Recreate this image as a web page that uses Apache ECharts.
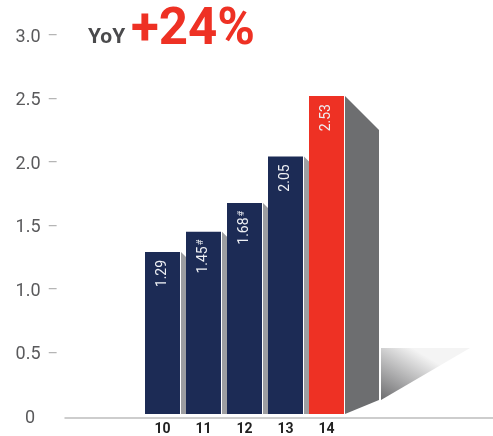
<!DOCTYPE html>
<html>
<head>
<meta charset="utf-8">
<script src="https://cdn.jsdelivr.net/npm/echarts@6/dist/echarts.min.js"></script>
<style>
  html, body { margin: 0; padding: 0; background: #fff; }
  #chart { width: 493px; height: 436px; }
</style>
</head>
<body>
<div id="chart"></div>
<script>
const years = ["10", "11", "12", "13", "14"];
const values = [1.29, 1.45, 1.68, 2.05, 2.53];
const notes = ["", "#", "#", "", ""];
const yoyText = "+24%";

const navy = "#1c2b55";
const red = "#ee3124";
const highlight = years.length - 1;
const barW = 35;

const chart = echarts.init(document.getElementById("chart"));

function renderSide(params, api) {
  const i = api.value(0);
  const top = api.coord([i, api.value(1)]);
  const base = api.coord([i, 0]);
  const x0 = top[0] + barW / 2 + 1;
  const children = [];
  if (i === highlight) {
    const d = 34;
    children.push({
      type: "polygon",
      shape: { points: [[x0, top[1]], [x0 + d, top[1] + d], [x0 + d, base[1] - 14], [x0, base[1]]] },
      style: { fill: "#6d6e70" }
    });
    const fx = x0 + d + 2;
    children.push({
      type: "polygon",
      shape: { points: [[fx, base[1] - 66], [fx + 89, base[1] - 66], [fx, base[1] - 14]] },
      style: {
        fill: new echarts.graphic.LinearGradient(0, 1, 0.35, 0, [
          { offset: 0, color: "#6c6c6e" },
          { offset: 1, color: "#f4f4f4" }
        ])
      }
    });
  } else {
    const d = 5;
    children.push({
      type: "polygon",
      shape: { points: [[x0, top[1]], [x0 + d, top[1] + d], [x0 + d, base[1]], [x0, base[1]]] },
      style: { fill: "#9d9ea1" }
    });
  }
  return { type: "group", children: children };
}

chart.setOption({
  animation: false,
  title: [
    {
      text: "YoY",
      left: 83,
      top: 22,
      textStyle: { fontFamily: "Roboto", fontWeight: "bold", fontSize: 21, color: "#4a4a4c" }
    },
    {
      text: yoyText,
      left: 126,
      top: 1,
      textStyle: { fontFamily: "Roboto", fontWeight: "bold", fontSize: 51, color: red }
    }
  ],
  grid: [
    { left: 142, width: 205, top: 37, bottom: 18 },
    { left: 65, right: 0, top: 37, bottom: 18 }
  ],
  xAxis: [
    {
      type: "category",
      gridIndex: 0,
      data: years,
      axisLine: { show: false },
      axisTick: { show: false },
      axisLabel: { fontFamily: "Roboto", fontWeight: "bold", fontSize: 14, color: "#222", margin: 8 }
    },
    {
      type: "value",
      gridIndex: 1,
      min: 0,
      max: 1,
      axisLine: { show: true, lineStyle: { color: "#bdbdbd", width: 1.5 } },
      axisTick: { show: false },
      axisLabel: { show: false },
      splitLine: { show: false }
    }
  ],
  yAxis: [
    { type: "value", gridIndex: 0, min: 0, max: 3, interval: 0.5, show: false },
    {
      type: "value",
      gridIndex: 1,
      min: 0,
      max: 3,
      interval: 0.5,
      axisLine: { show: false },
      axisTick: { show: false },
      splitLine: { show: false },
      axisLabel: {
        margin: 7,
        formatter: v => v === 0 ? "{a|0}{s|}" : "{a|" + v.toFixed(1) + "}{b|–}",
        rich: {
          a: { fontFamily: "Roboto", fontSize: 18, color: "#5a5a5c" },
          b: { fontFamily: "Roboto", fontSize: 16, color: "#b5b5b5", padding: [0, 0, 0, 7] },
          s: { width: 23 }
        }
      }
    }
  ],
  series: [
    {
      type: "bar",
      xAxisIndex: 0,
      yAxisIndex: 0,
      barWidth: barW,
      data: values.map((v, i) => ({ value: v, itemStyle: { color: i === highlight ? red : navy } })),
      label: {
        show: true,
        position: "insideTop",
        rotate: 90,
        align: "right",
        verticalAlign: "middle",
        distance: 8,
        formatter: p => "{v|" + p.value.toFixed(2) + "}" + (notes[p.dataIndex] ? "{n|" + notes[p.dataIndex] + "}" : ""),
        rich: {
          v: { fontFamily: "Roboto", fontSize: 14, color: "#eef0f4" },
          n: { fontFamily: "Roboto", fontSize: 9, color: "#eef0f4", verticalAlign: "top", padding: [0, 0, 6, 1] }
        }
      }
    },
    {
      type: "custom",
      xAxisIndex: 0,
      yAxisIndex: 0,
      renderItem: renderSide,
      data: values.map((v, i) => [i, v]),
      encode: { x: 0, y: 1 },
      silent: true
    }
  ]
});
</script>
</body>
</html>
